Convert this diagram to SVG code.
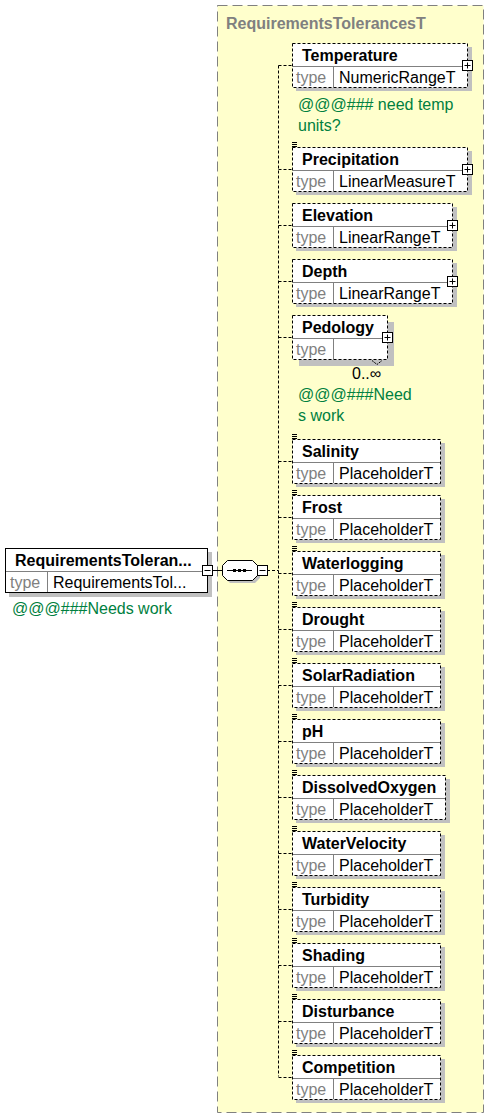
<svg xmlns="http://www.w3.org/2000/svg" xmlns:xlink="http://www.w3.org/1999/xlink" width="502" height="1119" viewBox="0 0 502 1119">
<style>
.cont{fill:#ffffcc;stroke:#808080;stroke-width:1;stroke-dasharray:10 5}
.title{font-family:"Liberation Sans",Arial,sans-serif;font-size:16px;font-weight:bold;fill:#808080}
.box{fill:#fff;stroke:#000;stroke-width:1;stroke-dasharray:3 2}
.sbox{fill:#fff;stroke:#000;stroke-width:1}
.shadow{fill:#c0c0c0}
.div{stroke:#808080;stroke-width:1;fill:none}
.name{font-family:"Liberation Sans",Arial,sans-serif;font-size:16px;font-weight:bold;fill:#000}
.tl{font-family:"Liberation Sans",Arial,sans-serif;font-size:16px;fill:#808080}
.tv{font-family:"Liberation Sans",Arial,sans-serif;font-size:16px;fill:#000}
.note{font-family:"Liberation Sans",Arial,sans-serif;font-size:16px;fill:#008040}
.occ{font-family:"Liberation Sans",Arial,sans-serif;font-size:16px;fill:#000}
.conn{stroke:#000;stroke-width:1;fill:none;stroke-dasharray:3 2}
.solid{stroke:#000;stroke-width:1;fill:none}
.doc{stroke:#000;stroke-width:1}
</style>
<defs>
<g id="plus"><rect x="-4.5" y="-4.5" width="10" height="10" fill="#fff" stroke="#000"/><path d="M-2.5,0.5H3.5M0.5,-2.5V3.5" stroke="#000"/></g>
<g id="minus"><rect x="-4.5" y="-4.5" width="10" height="10" fill="#fff" stroke="#000"/><path d="M-2.5,0.5H3.5" stroke="#000"/></g>
<path id="docicon" d="M0,-4.5H5M0,-2.5H5M0,-0.5H5" class="doc"/>
</defs>

<g id="container">
<rect class="cont" x="217.5" y="5.5" width="266" height="1107"/>
<text class="title" x="226" y="29">RequirementsTolerancesT</text>
</g>

<g id="connectors">
<path class="solid" d="M212,570.5H222"/>
<path class="conn" d="M267,570.5H278.5"/>
<path class="conn" d="M278.5,65.5V1076.5"/>
<path class="conn" d="M278.5,65.5H292M278.5,169.5H292M278.5,225.5H292M278.5,281.5H292M278.5,337.5H292M278.5,461.5H292M278.5,517.5H292M278.5,573.5H292M278.5,629.5H292M278.5,685.5H292M278.5,741.5H292M278.5,797.5H292M278.5,853.5H292M278.5,909.5H292M278.5,965.5H292M278.5,1021.5H292M278.5,1077.5H292"/>
</g>

<g id="root">
<rect class="shadow" x="9" y="552" width="203" height="45"/>
<rect class="sbox" x="5.5" y="548.5" width="202" height="44"/>
<path class="div" d="M6,571.5H207M47.5,572V592"/>
<text class="name" x="15" y="566">RequirementsToleran...</text>
<text class="tl" x="10" y="588">type</text>
<text class="tv" x="53" y="588">RequirementsTol...</text>
<use xlink:href="#minus" x="207" y="570"/>
<text class="note" x="12" y="614">@@@###Needs work</text>
</g>

<g id="sequence">
<polygon class="shadow" points="230,563 255,563 260,568 260,578 255,583 230,583 225,578 225,568"/>
<polygon class="sbox" points="227.5,560.5 252.5,560.5 257.5,565.5 257.5,575.5 252.5,580.5 227.5,580.5 222.5,575.5 222.5,565.5"/>
<path class="solid" d="M227,570.5H252"/>
<rect x="233" y="569" width="3" height="3" fill="#000"/>
<rect x="238" y="569" width="3" height="3" fill="#000"/>
<rect x="243" y="569" width="3" height="3" fill="#000"/>
<use xlink:href="#minus" x="262" y="570"/>
</g>

<g id="Temperature">
<rect class="shadow" x="296" y="47" width="176" height="44"/>
<rect class="box" x="292.5" y="43.5" width="175" height="44"/>
<path class="div" d="M293,66.5H467M333.5,67V87"/>
<text class="name" x="302" y="61">Temperature</text>
<text class="tl" x="296" y="83">type</text>
<text class="tv" x="339" y="83">NumericRangeT</text>
<use xlink:href="#plus" x="467" y="65"/>
<text class="note" x="298" y="110">@@@### need temp</text>
<text class="note" x="298" y="131">units?</text>
</g>

<g id="Precipitation">
<rect class="shadow" x="296" y="151" width="176" height="44"/>
<rect class="box" x="292.5" y="147.5" width="175" height="44"/>
<path class="div" d="M293,170.5H467M333.5,171V191"/>
<use xlink:href="#docicon" x="292" y="147"/>
<text class="name" x="302" y="165">Precipitation</text>
<text class="tl" x="296" y="187">type</text>
<text class="tv" x="339" y="187">LinearMeasureT</text>
<use xlink:href="#plus" x="467" y="169"/>
</g>

<g id="Elevation">
<rect class="shadow" x="296" y="207" width="161" height="44"/>
<rect class="box" x="292.5" y="203.5" width="160" height="44"/>
<path class="div" d="M293,226.5H452M333.5,227V247"/>
<text class="name" x="302" y="221">Elevation</text>
<text class="tl" x="296" y="243">type</text>
<text class="tv" x="339" y="243">LinearRangeT</text>
<use xlink:href="#plus" x="452" y="225"/>
</g>

<g id="Depth">
<rect class="shadow" x="296" y="263" width="161" height="44"/>
<rect class="box" x="292.5" y="259.5" width="160" height="44"/>
<path class="div" d="M293,282.5H452M333.5,283V303"/>
<text class="name" x="302" y="277">Depth</text>
<text class="tl" x="296" y="299">type</text>
<text class="tv" x="339" y="299">LinearRangeT</text>
<use xlink:href="#plus" x="452" y="281"/>
</g>

<g id="Pedology">
<rect class="shadow" x="299" y="322" width="95" height="44"/>
<rect class="box" x="292.5" y="315.5" width="95" height="44"/>
<path class="div" d="M293,338.5H387M333.5,339V359"/>
<path d="M372,360.5L377,364.5L382,360.5" stroke="#000" fill="none" stroke-dasharray="2 1"/>
<text class="name" x="302" y="333">Pedology</text>
<text class="tl" x="296" y="355">type</text>
<use xlink:href="#plus" x="387" y="337"/>
<text class="occ" x="352" y="379">0..∞</text>
<text class="note" x="298" y="400">@@@###Need</text>
<text class="note" x="298" y="421">s work</text>
</g>

<g id="Salinity">
<rect class="shadow" x="296" y="443" width="149" height="44"/>
<rect class="box" x="292.5" y="439.5" width="148" height="44"/>
<path class="div" d="M293,462.5H440M333.5,463V483"/>
<use xlink:href="#docicon" x="292" y="439"/>
<text class="name" x="302" y="457">Salinity</text>
<text class="tl" x="296" y="479">type</text>
<text class="tv" x="339" y="479">PlaceholderT</text>
</g>

<g id="Frost">
<rect class="shadow" x="296" y="499" width="149" height="44"/>
<rect class="box" x="292.5" y="495.5" width="148" height="44"/>
<path class="div" d="M293,518.5H440M333.5,519V539"/>
<use xlink:href="#docicon" x="292" y="495"/>
<text class="name" x="302" y="513">Frost</text>
<text class="tl" x="296" y="535">type</text>
<text class="tv" x="339" y="535">PlaceholderT</text>
</g>

<g id="Waterlogging">
<rect class="shadow" x="296" y="555" width="149" height="44"/>
<rect class="box" x="292.5" y="551.5" width="148" height="44"/>
<path class="div" d="M293,574.5H440M333.5,575V595"/>
<use xlink:href="#docicon" x="292" y="551"/>
<text class="name" x="302" y="569">Waterlogging</text>
<text class="tl" x="296" y="591">type</text>
<text class="tv" x="339" y="591">PlaceholderT</text>
</g>

<g id="Drought">
<rect class="shadow" x="296" y="611" width="149" height="44"/>
<rect class="box" x="292.5" y="607.5" width="148" height="44"/>
<path class="div" d="M293,630.5H440M333.5,631V651"/>
<use xlink:href="#docicon" x="292" y="607"/>
<text class="name" x="302" y="625">Drought</text>
<text class="tl" x="296" y="647">type</text>
<text class="tv" x="339" y="647">PlaceholderT</text>
</g>

<g id="SolarRadiation">
<rect class="shadow" x="296" y="667" width="149" height="44"/>
<rect class="box" x="292.5" y="663.5" width="148" height="44"/>
<path class="div" d="M293,686.5H440M333.5,687V707"/>
<use xlink:href="#docicon" x="292" y="663"/>
<text class="name" x="302" y="681">SolarRadiation</text>
<text class="tl" x="296" y="703">type</text>
<text class="tv" x="339" y="703">PlaceholderT</text>
</g>

<g id="pH">
<rect class="shadow" x="296" y="723" width="149" height="44"/>
<rect class="box" x="292.5" y="719.5" width="148" height="44"/>
<path class="div" d="M293,742.5H440M333.5,743V763"/>
<use xlink:href="#docicon" x="292" y="719"/>
<text class="name" x="302" y="737">pH</text>
<text class="tl" x="296" y="759">type</text>
<text class="tv" x="339" y="759">PlaceholderT</text>
</g>

<g id="DissolvedOxygen">
<rect class="shadow" x="296" y="779" width="154" height="44"/>
<rect class="box" x="292.5" y="775.5" width="153" height="44"/>
<path class="div" d="M293,798.5H445M333.5,799V819"/>
<use xlink:href="#docicon" x="292" y="775"/>
<text class="name" x="302" y="793">DissolvedOxygen</text>
<text class="tl" x="296" y="815">type</text>
<text class="tv" x="339" y="815">PlaceholderT</text>
</g>

<g id="WaterVelocity">
<rect class="shadow" x="296" y="835" width="149" height="44"/>
<rect class="box" x="292.5" y="831.5" width="148" height="44"/>
<path class="div" d="M293,854.5H440M333.5,855V875"/>
<use xlink:href="#docicon" x="292" y="831"/>
<text class="name" x="302" y="849">WaterVelocity</text>
<text class="tl" x="296" y="871">type</text>
<text class="tv" x="339" y="871">PlaceholderT</text>
</g>

<g id="Turbidity">
<rect class="shadow" x="296" y="891" width="149" height="44"/>
<rect class="box" x="292.5" y="887.5" width="148" height="44"/>
<path class="div" d="M293,910.5H440M333.5,911V931"/>
<use xlink:href="#docicon" x="292" y="887"/>
<text class="name" x="302" y="905">Turbidity</text>
<text class="tl" x="296" y="927">type</text>
<text class="tv" x="339" y="927">PlaceholderT</text>
</g>

<g id="Shading">
<rect class="shadow" x="296" y="947" width="149" height="44"/>
<rect class="box" x="292.5" y="943.5" width="148" height="44"/>
<path class="div" d="M293,966.5H440M333.5,967V987"/>
<use xlink:href="#docicon" x="292" y="943"/>
<text class="name" x="302" y="961">Shading</text>
<text class="tl" x="296" y="983">type</text>
<text class="tv" x="339" y="983">PlaceholderT</text>
</g>

<g id="Disturbance">
<rect class="shadow" x="296" y="1003" width="149" height="44"/>
<rect class="box" x="292.5" y="999.5" width="148" height="44"/>
<path class="div" d="M293,1022.5H440M333.5,1023V1043"/>
<use xlink:href="#docicon" x="292" y="999"/>
<text class="name" x="302" y="1017">Disturbance</text>
<text class="tl" x="296" y="1039">type</text>
<text class="tv" x="339" y="1039">PlaceholderT</text>
</g>

<g id="Competition">
<rect class="shadow" x="296" y="1059" width="149" height="44"/>
<rect class="box" x="292.5" y="1055.5" width="148" height="44"/>
<path class="div" d="M293,1078.5H440M333.5,1079V1099"/>
<use xlink:href="#docicon" x="292" y="1055"/>
<text class="name" x="302" y="1073">Competition</text>
<text class="tl" x="296" y="1095">type</text>
<text class="tv" x="339" y="1095">PlaceholderT</text>
</g>
</svg>
